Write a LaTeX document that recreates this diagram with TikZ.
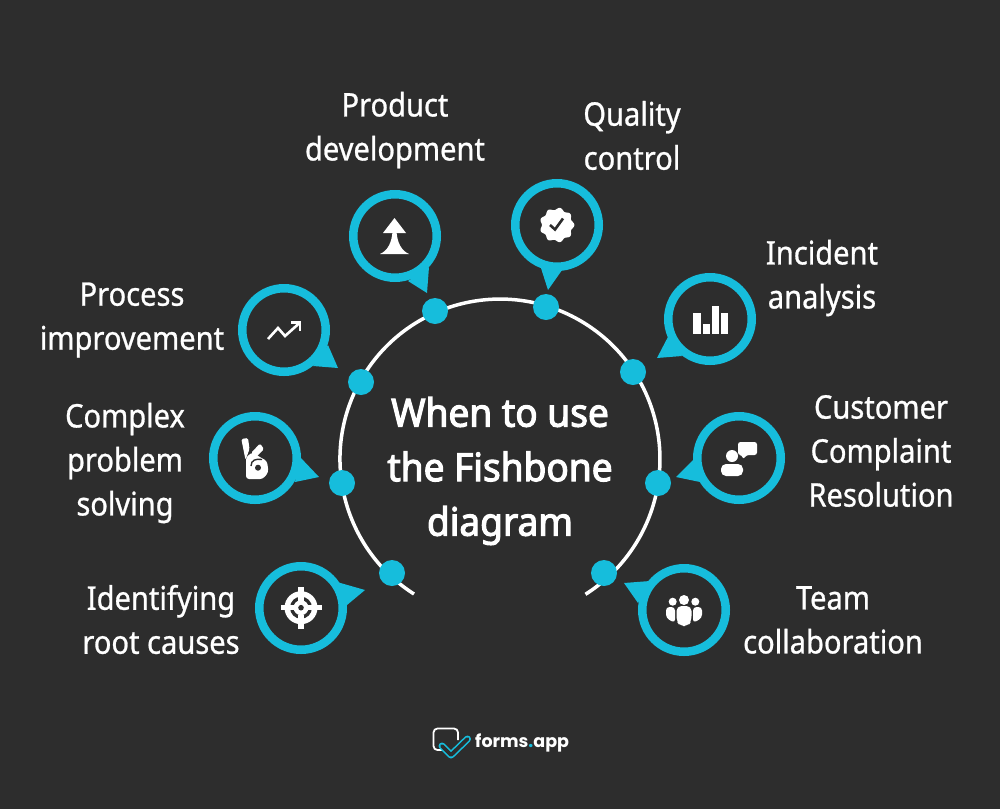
\documentclass[tikz,border=0pt]{standalone}
\usepackage{fontspec}
\setmainfont{Noto Sans}
\newfontfamily\capfont[FakeStretch=0.895,FakeBold=0.8]{Noto Sans}
\newfontfamily\titlefont[FakeStretch=0.95,FakeBold=2.8]{Noto Sans}
\newfontfamily\logofont{Poppins}
\definecolor{slatebg}{HTML}{2D2D2D}
\definecolor{pincyan}{HTML}{16BDDC}
\tikzset{
  ringline/.style={draw=white,line width=3.5pt},
  spot/.style={circle,fill=pincyan,minimum size=26pt,inner sep=0pt},
  bubble/.style={circle,draw=pincyan,fill=slatebg,line width=8.5pt,minimum size=83.5pt,inner sep=0pt},
  pinfill/.style={fill=pincyan},
  iconfill/.style={fill=white},
  iconcut/.style={fill=slatebg},
  caption/.style={text=white,align=center,font=\capfont\fontsize{32.5}{44}\selectfont},
  headline/.style={text=white,align=center,font=\titlefont\fontsize{39}{54.5}\selectfont},
}
\begin{document}
\begin{tikzpicture}[x=1pt,y=-1pt]
\fill[slatebg] (0,0) rectangle (1000,809);
% ring and its spots
\coordinate (ringstart) at (414,594);
\draw[ringline] (ringstart) arc[start angle=122.5,end angle=417.7,radius=160];
\node[spot] (spotproduct) at (435,311) {};
\node[spot] (spotquality) at (546,307) {};
\node[spot] (spotincident) at (633,372) {};
\node[spot] (spotcustomer) at (658,483) {};
\node[spot] (spotteam) at (604,573) {};
\node[spot] (spotroot) at (392,573) {};
\node[spot] (spotcomplex) at (342,483) {};
\node[spot] (spotprocess) at (361,382) {};
\node[headline] (title) at (500,471) {When to use\\the Fishbone\\diagram};
% bubbles
\coordinate (pinproduct) at (427,293);
\fill[pinfill] (408,281) -- (pinproduct) -- (429,267) -- cycle;
\node[bubble] (bubproduct) at (395,236) {};
\coordinate (pinquality) at (548,290);
\fill[pinfill] (540,265) -- (pinquality) -- (567,263) -- cycle;
\node[bubble] (bubquality) at (557,225) {};
\coordinate (pinincident) at (657,358);
\fill[pinfill] (670,333) -- (pinincident) -- (682,356) -- cycle;
\node[bubble] (bubincident) at (710,319) {};
\coordinate (pincustomer) at (676,477);
\fill[pinfill] (693,460) -- (pincustomer) -- (700,482) -- cycle;
\node[bubble] (bubcustomer) at (739,458) {};
\coordinate (pinteam) at (624,583);
\fill[pinfill] (650,581) -- (pinteam) -- (638,603) -- cycle;
\node[bubble] (bubteam) at (684,610) {};
\coordinate (pinroot) at (365,590);
\fill[pinfill] (337,582) -- (pinroot) -- (347,605) -- cycle;
\node[bubble] (bubroot) at (301,608) {};
\coordinate (pincomplex) at (319,477);
\fill[pinfill] (300,457) -- (pincomplex) -- (295,482) -- cycle;
\node[bubble] (bubcomplex) at (255,458) {};
\coordinate (pinprocess) at (338,368);
\fill[pinfill] (328,345) -- (pinprocess) -- (313,366) -- cycle;
\node[bubble] (bubprocess) at (284,330) {};
% icons
\fill[iconfill] (394.5,218) -- (406,233) -- (383,233) -- cycle;
\fill[iconfill] (392.5,229) -- (396.5,229) .. controls (396.5,243) and (402,251) .. (409,254) -- (380,254) .. controls (387,251) and (392.5,243) .. (392.5,229) -- cycle;
\fill[iconfill] plot[domain=0:360,samples=91,smooth] ({557+(16.2+1.2*cos(9*\x))*cos(\x)},{225+(16.2+1.2*cos(9*\x))*sin(\x)});
\draw[slatebg,line width=2.6pt] (550,225) -- (555,229.5) -- (563,218.5);
\draw[white,line width=2.6pt] (268,339) -- (278,328) -- (285,336) -- (299,323.5);
\draw[white,line width=2.6pt] (291,322.5) -- (300,322.5) -- (300,331);
\fill[iconfill] (693,313) rectangle (701,334);
\fill[iconfill] (702.7,324) rectangle (710,334);
\fill[iconfill] (712,306) rectangle (719,334);
\fill[iconfill] (720.7,313) rectangle (728,334);
\fill[iconfill,rounded corners=2.5pt] (738,442) -- (757,442) -- (757,455) -- (746.5,455) -- (743,459.5) -- (742,455) -- (738,455) -- cycle;
\fill[iconfill] (732,456) circle[radius=6];
\fill[iconfill,rounded corners=5pt] (721,464) -- (743,464) -- (743,476) -- (721,476) -- cycle;
\fill[iconfill] (672.7,601.7) circle[radius=4];
\fill[iconfill] (684,600) circle[radius=5];
\fill[iconfill] (695.3,601.7) circle[radius=4];
\fill[iconfill,rounded corners=3.5pt] (666,607) -- (675,607) -- (675,623) -- (666,618) -- cycle;
\fill[iconfill,rounded corners=3.5pt] (693,607) -- (702,607) -- (702,618) -- (693,623) -- cycle;
\fill[iconfill,rounded corners=5pt] (676.5,606) -- (691.5,606) -- (691.5,621) -- (688,626) -- (680,626) -- (676.5,621) -- cycle;
\fill[iconfill] (301,607.7) circle[radius=16.5];
\fill[iconcut] (301,607.7) circle[radius=11];
\fill[iconfill] (301,607.7) circle[radius=7.5];
\fill[iconcut] (301,607.7) circle[radius=2.8];
\fill[iconfill] (280.5,605) rectangle (294,610.4);
\fill[iconfill] (308,605) rectangle (321.5,610.4);
\fill[iconfill] (298.3,586.5) rectangle (303.7,601);
\fill[iconfill] (298.3,614.5) rectangle (303.7,629);
\fill[iconfill,rounded corners=1.5pt] (241.3,439) -- (248,438) -- (249.5,449) -- (245.5,460) -- cycle;
\fill[iconfill,rounded corners=1.5pt] (260,443.5) -- (264,449) -- (256,457) -- (251,453) -- cycle;
\fill[iconfill,rounded corners=3pt] (246,479) -- (246,457) -- (253,452) -- (258,456) -- (267,461) -- (268.5,472) -- (263,479) -- cycle;
\draw[slatebg,line width=1.4pt] (251,466) .. controls (251,460) and (256,458.5) .. (262,459.5);
\fill[iconcut] (258,467.7) circle[radius=3];
% labels
\node[caption] (capproduct) at (395,130) {Product\\development};
\node[caption] (capquality) at (632,135.5) {Quality\\control};
\node[caption] (capincident) at (822,278) {Incident\\analysis};
\node[caption] (capcustomer) at (881,451) {Customer\\Complaint\\Resolution};
\node[caption] (capteam) at (833,620) {Team\\collaboration};
\node[caption] (caproot) at (161,619.5) {Identifying\\root causes};
\node[caption] (capcomplex) at (125,463) {Complex\\problem\\solving};
\node[caption] (capprocess) at (132,320) {Process\\improvement};
% logo
\draw[white,line width=1.8pt,rounded corners=4pt] (446,750) -- (433.5,750) -- (433.5,728.5) -- (458,728.5) -- (458,740);
\draw[pincyan,line width=7pt,line join=round,line cap=round] (442,746) -- (451,755) -- (467.5,739);
\draw[slatebg,line width=3.8pt,line join=round,line cap=round] (442,746) -- (451,755) -- (467.5,739);
\node[text=white,font=\logofont\fontsize{17.5}{22}\selectfont\bfseries,anchor=base west,inner sep=0pt] (logoname) at (475,747) {forms\textcolor{pincyan}{.}app};
\end{tikzpicture}
\end{document}
